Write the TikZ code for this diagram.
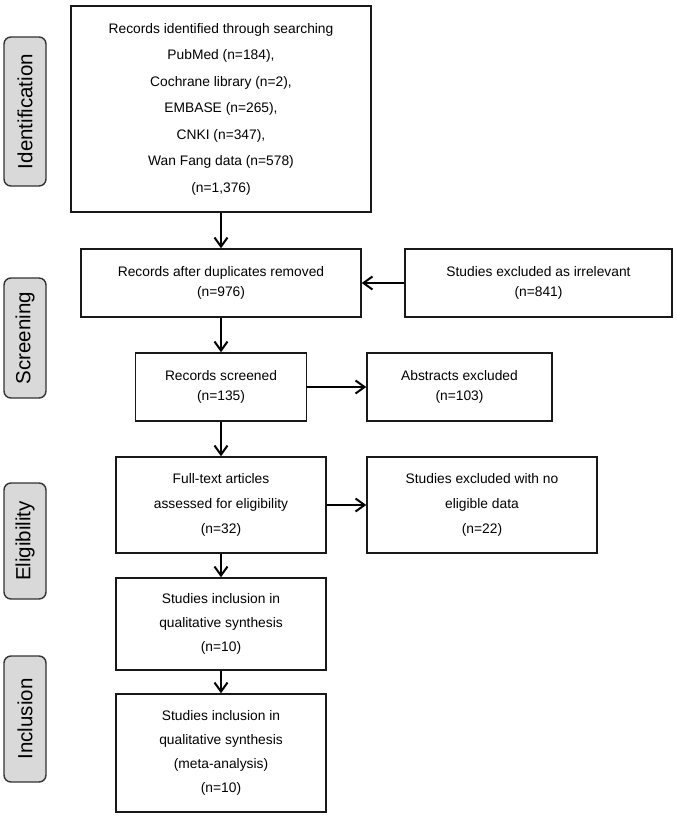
\documentclass[tikz,border=0pt]{standalone}
\usepackage{fontspec}
\setmainfont{Liberation Sans}
\usetikzlibrary{arrows.meta, positioning}
\definecolor{LabelGray}{HTML}{D9D9D9}
\definecolor{EdgeGray}{HTML}{333333}
\tikzset{
  flowbox/.style={draw=black!90, line width=1.5pt, fill=white, align=center, inner sep=4pt, font=\fontsize{13.8}{20}\selectfont},
  stagebox/.style={draw=EdgeGray, line width=1.4pt, rounded corners=7pt, fill=LabelGray, rotate=90, minimum height=42pt, inner sep=0pt, font=\fontsize{20.5}{24}\selectfont},
  arrow/.style={-{Straight Barb[length=9pt, width=13pt]}, line width=2pt}
}

\begin{document}
\begin{tikzpicture}[x=1pt, y=-1pt]
\useasboundingbox (0,0) rectangle (677,822);
% stage labels
\node[stagebox, minimum width=149pt] (ident) at (25,111.5) {Identification};
\node[stagebox, minimum width=120pt] (screen) at (25,338) {Screening};
\node[stagebox, minimum width=116pt] (elig) at (25,541) {Eligibility};
\node[stagebox, minimum width=126pt] (incl) at (25,719) {Inclusion};
% main column
\node[flowbox, minimum width=300pt, minimum height=206pt, font=\fontsize{13.8}{26.5}\selectfont] (rec) at (221,109) {Records identified through searching\\PubMed (n=184),\\Cochrane library (n=2),\\EMBASE (n=265),\\CNKI (n=347),\\Wan Fang data (n=578)\\(n=1,376)};
\node[flowbox, minimum width=280pt, minimum height=68pt] (dup) at (221,283) {Records after duplicates removed\\(n=976)};
\node[flowbox, minimum width=171pt, minimum height=68pt] (scr) at (221,387) {Records screened\\(n=135)};
\node[flowbox, minimum width=210pt, minimum height=96pt, font=\fontsize{13.8}{25}\selectfont] (full) at (221,505) {Full-text articles\\assessed for eligibility\\(n=32)};
\node[flowbox, minimum width=210pt, minimum height=92pt, font=\fontsize{13.8}{24}\selectfont] (qual) at (221,624) {Studies inclusion in\\qualitative synthesis\\(n=10)};
\node[flowbox, minimum width=210pt, minimum height=118pt, font=\fontsize{13.8}{24}\selectfont] (meta) at (221,753) {Studies inclusion in\\qualitative synthesis\\(meta-analysis)\\(n=10)};
% side column
\node[flowbox, minimum width=267pt, minimum height=68pt] (irr) at (538.5,283) {Studies excluded as irrelevant\\(n=841)};
\node[flowbox, minimum width=185pt, minimum height=68pt] (abs) at (459.5,387) {Abstracts excluded\\(n=103)};
\node[flowbox, minimum width=230pt, minimum height=96pt, font=\fontsize{13.8}{25}\selectfont] (nodata) at (482,505) {Studies excluded with no\\eligible data\\(n=22)};
% arrows
\draw[arrow] (rec) -- (dup);
\draw[arrow] (irr) -- (dup);
\draw[arrow] (dup) -- (scr);
\draw[arrow] (scr) -- (abs);
\draw[arrow] (scr) -- (full);
\draw[arrow] (full) -- (nodata);
\draw[arrow] (full) -- (qual);
\draw[arrow] (qual) -- (meta);
\end{tikzpicture}
\end{document}
